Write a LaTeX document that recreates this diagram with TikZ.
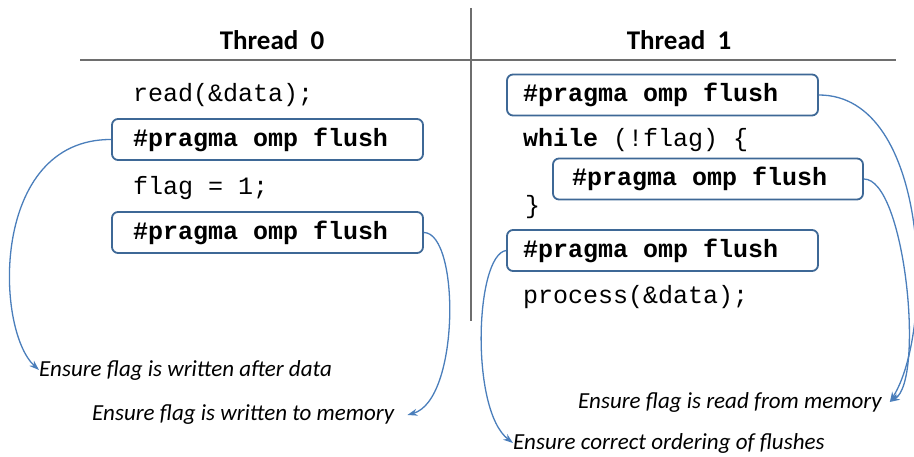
\documentclass[tikz,border=0pt]{standalone}
\usepackage{fontspec}
\setmainfont{Carlito}
\newfontfamily\codefont{Liberation Mono}
\usetikzlibrary{arrows.meta}
\definecolor{boxblue}{RGB}{62,104,150}
\definecolor{arrowblue}{RGB}{74,126,187}
\definecolor{rulegray}{RGB}{110,110,110}
\newcommand\cgap{\hspace*{0.6em}}
\newcommand\ompflush{\#pragma\cgap omp\cgap flush}
\tikzset{
  flushbox/.style={draw=boxblue, line width=1.8pt, rounded corners=6pt, fill=white, minimum height=41pt, inner xsep=21pt, text width=269pt, align=left, font=\codefont\bfseries\fontsize{25}{30}\selectfont},
  code/.style={anchor=west, inner sep=0pt, font=\codefont\fontsize{25}{30}\selectfont},
  note/.style={anchor=west, inner sep=0pt, font=\itshape\fontsize{23}{27}\selectfont},
  title/.style={font=\bfseries\fontsize{27}{32}\selectfont},
  link/.style={draw=arrowblue, line width=1.3pt, -{Stealth[length=10pt,width=7pt]}}
}
\begin{document}
\begin{tikzpicture}[x=1pt,y=-1pt]
\useasboundingbox (0,0) rectangle (914,457);
\node[title] (t0) at (272,40) {Thread\ \ 0};
\node[title] (t1) at (679,40) {Thread\ \ 1};
\coordinate (hl) at (80,60);
\coordinate (hr) at (896,60);
\coordinate (vt) at (471,8);
\coordinate (vb) at (471,321);
\draw[rulegray, line width=1.2pt] (hl) -- (hr);
\draw[rulegray, line width=1.2pt] (vt) -- (vb);
% thread 0
\node[code] (rd) at (133,95) {read(\&data);};
\node[flushbox] (fA) at (267.5,139.5) {\ompflush};
\node[code] (fl) at (133,188) {flag = 1;};
\node[flushbox] (fB) at (267.5,232.5) {\ompflush};
% thread 1
\node[flushbox, inner xsep=16pt, text width=279pt] (fC) at (662.5,95) {\ompflush};
\node[code] (wh) at (523,140) {{\bfseries while}\cgap(!flag)\cgap\{};
\node[flushbox, inner xsep=19pt, text width=272pt] (fD) at (708,179) {\ompflush};
\node[code] (cl) at (525,207) {\}};
\node[flushbox, inner xsep=16pt, text width=279pt] (fE) at (662.5,250.5) {\ompflush};
\node[code] (pr) at (523,297) {process(\&data);};
% notes
\node[note] (n1) at (39,370) {Ensure flag is written after data};
\node[note] (n2) at (92,415) {Ensure flag is written to memory};
\node[note] (n3) at (578,402) {Ensure flag is read from memory};
\node[note] (n4) at (513,443) {Ensure correct ordering of flushes};
\path[link] (fA.west) .. controls (-10,139) and (-5,330) .. (n1.west);
\path[link] (fB.east) .. controls (460,233) and (460,400) .. ([xshift=13pt]n2.east);
\path[link] (fC.east) .. controls (930,95) and (935,330) .. ([xshift=8pt]n3.east);
\path[link] (fD.east) .. controls (905,179) and (925,380) .. ([xshift=8pt]n3.east);
\path[link] (fE.west) .. controls (475,255) and (470,410) .. (n4.west);
\end{tikzpicture}
\end{document}
